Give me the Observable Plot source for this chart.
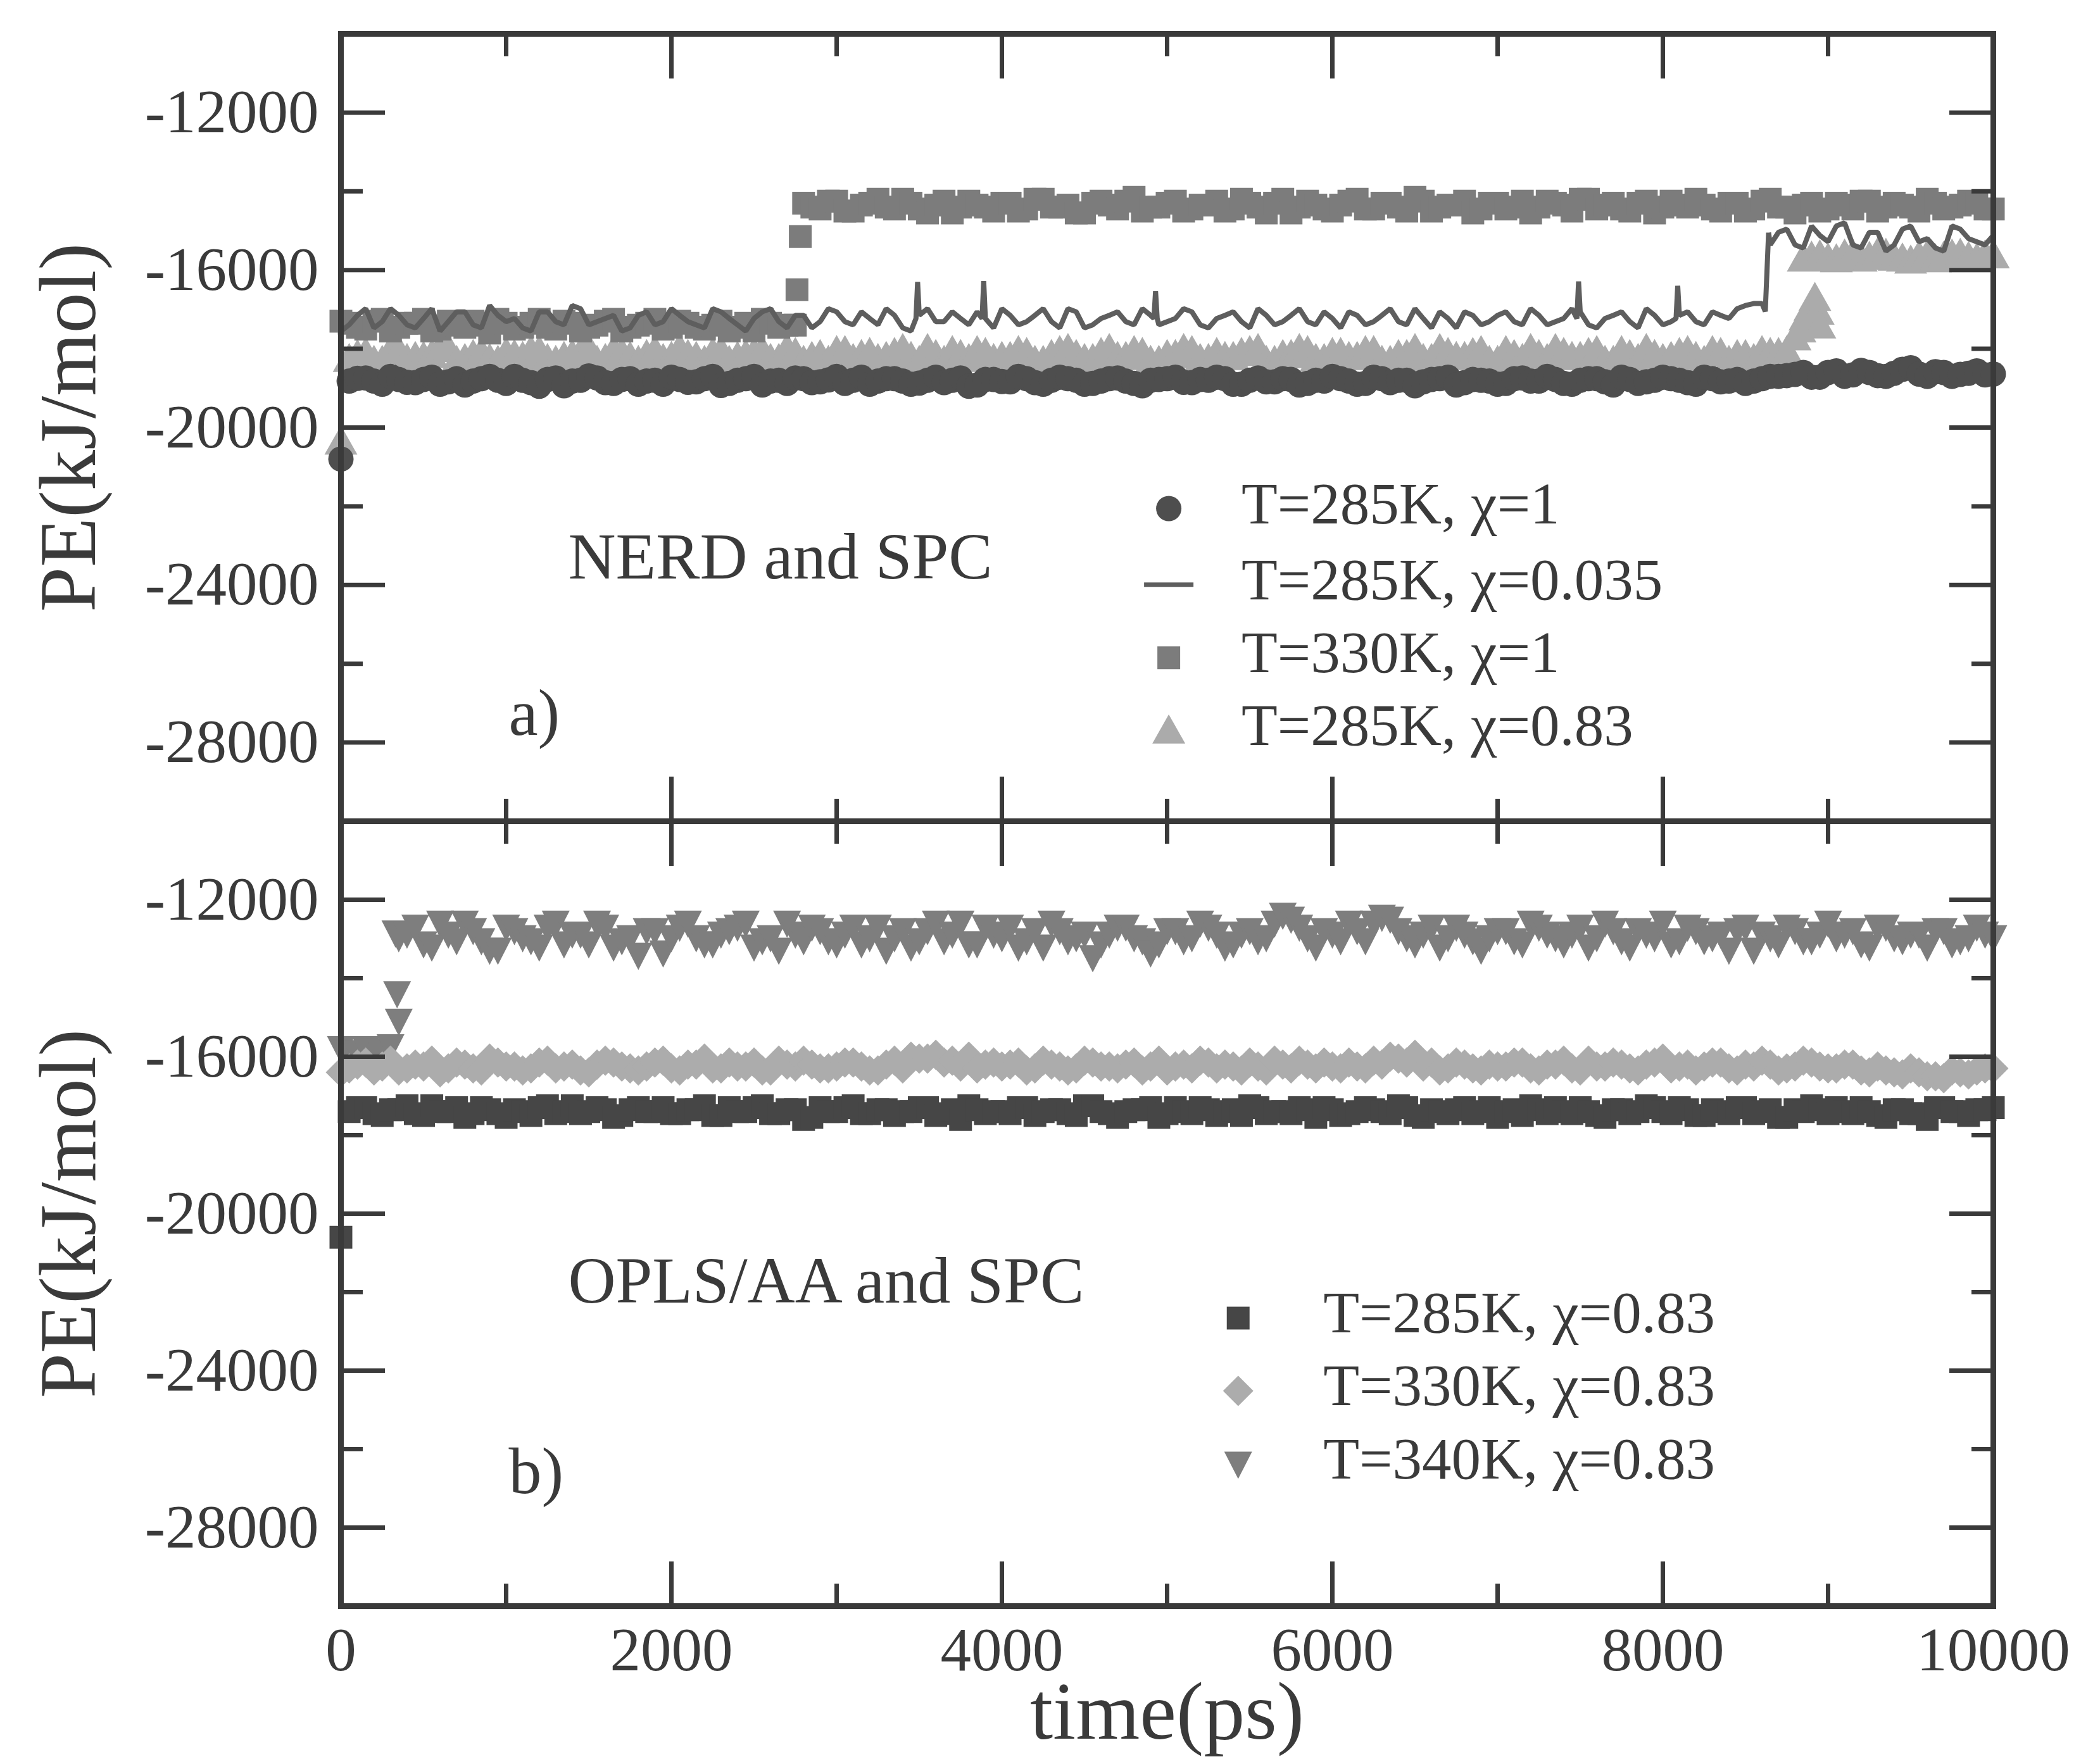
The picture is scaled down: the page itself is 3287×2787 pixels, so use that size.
<!DOCTYPE html>
<html><head><meta charset="utf-8">
<script src="https://cdn.jsdelivr.net/npm/d3@7"></script>
<script src="https://cdn.jsdelivr.net/npm/@observablehq/plot@0.6"></script>
<style>
html,body{margin:0;padding:0;background:#fff;}
#chart{position:relative;width:3287px;height:2787px;background:#fff;}
#chart svg{display:block;overflow:visible;}
</style></head><body><div id="chart"></div>
<script>
// ---------- data ----------
// main samples every 100 ps (t = 0..10000), "mid" samples half-way between (t = 50..9950)
const time = d3.range(0, 10001, 100);

// Panel a) NERD and SPC
const a_285K_chi1 = [-20800,
 -18750,-18820,-18700,-18850,-18780,-18900,-18760,-18820,-18700,-18880,
 -18800,-18950,-18740,-18820,-18690,-18860,-18780,-18900,-18800,-18720,
 -18850,-18760,-18930,-18800,-18700,-18820,-18880,-18760,-18840,-18700,
 -18800,-18900,-18760,-18820,-18870,-18720,-18800,-18950,-18780,-18830,
 -18700,-18860,-18800,-18760,-18900,-18820,-18740,-18880,-18800,-18760,
 -18850,-18780,-18720,-18900,-18800,-18840,-18760,-18920,-18800,-18700,
 -18820,-18880,-18760,-18800,-18940,-18780,-18720,-18860,-18800,-18900,
 -18760,-18820,-18700,-18880,-18800,-18760,-18920,-18780,-18840,-18720,
 -18800,-18900,-18760,-18820,-18880,-18760,-18700,
 -18650,-18720,-18600,-18700,-18550,-18680,-18620,-18480,-18700,-18600,-18650,-18560,-18640];
const a_285K_chi1_mid = [
 -18820,-18740,-18900,-18780,-18860,-18720,-18840,-18920,-18760,-18800,
 -18700,-18860,-18780,-18940,-18800,-18740,-18880,-18760,-18820,-18900,
 -18780,-18840,-18700,-18880,-18760,-18920,-18800,-18740,-18860,-18790,
 -18880,-18720,-18820,-18760,-18900,-18800,-18860,-18740,-18920,-18780,
 -18840,-18760,-18900,-18720,-18800,-18880,-18760,-18820,-18940,-18780,
 -18720,-18860,-18800,-18760,-18900,-18740,-18840,-18780,-18880,-18820,
 -18760,-18900,-18720,-18860,-18800,-18840,-18760,-18920,-18780,-18820,
 -18880,-18740,-18820,-18780,-18900,-18760,-18840,-18720,-18880,-18800,
 -18760,-18860,-18720,-18840,-18780,-18820,-18700,
 -18680,-18600,-18720,-18560,-18660,-18600,-18700,-18520,-18640,-18580,-18700,-18620,-18660];

const a_285K_chi0035 = [-17550,
 -17150,-17470,-16980,-17390,-17230,-17550,-17060,-17390,-16900,-17310,
 -17470,-17060,-17310,-16900,-17390,-17230,-17550,-17150,-17390,-16980,
 -17310,-17470,-17060,-17390,-17230,-16980,-17470,-17150,-17310,-17060,
 -17390,-17230,-16980,-17470,-17150,-17310,-17060,-17390,-17230,-16980,
 -17390,-17150,-17310,-16980,-17470,-17230,-17060,-17390,-17150,-17310,
 -16980,-17390,-17230,-17060,-17470,-17150,-17310,-16980,-17390,-17230,
 -17060,-17390,-17150,-17310,-16980,-17470,-17230,-17060,-17390,-17150,
 -17310,-16980,-17390,-17230,-17060,-17470,-17150,-17310,-16980,-17390,
 -17150,-17310,-17060,-17230,-16900,-16850,
 -15040,-15360,-14880,-15280,-14800,-15440,-15040,-15360,-14880,-15200,-15520,-14960,-15280,-15120];
const a_285K_chi0035_mid = [
 -17390,-16980,-17310,-17150,-17470,-16980,-17310,-17060,-17470,-17150,
 -17230,-17550,-17060,-17390,-16980,-17310,-17150,-17470,-17060,-17310,
 -17150,-17390,-16980,-17230,-17550,-17060,-17310,-17150,-17470,-16980,
 -17310,-17060,-17390,-17150,-17550,-16980,-17310,-17230,-17060,-17470,
 -17150,-17310,-16980,-17470,-17060,-17390,-17150,-17310,-16980,-17390,
 -17230,-17060,-17470,-17150,-17310,-16980,-17390,-17150,-17310,-17060,
 -17470,-17150,-17310,-16980,-17390,-17230,-17060,-17470,-17150,-17310,
 -17060,-17390,-17150,-17310,-16980,-17390,-17230,-17060,-17470,-17150,
 -17310,-17060,-17390,-17150,-16980,-16850,
 -15360,-14960,-15440,-15120,-14880,-15360,-15040,-15520,-14960,-15280,-15440,-14880,-15200,-15360];
// spikes and the jump near 8600 ps: [time, PE]
const a_285K_chi0035_extra = [[3480,-17230],[3490,-16300],[3880,-17230],[3890,-16280],
 [4920,-17230],[4930,-16540],[4940,-17230],[7480,-17230],[7490,-16290],[8080,-17230],[8090,-16400],
 [8620,-17050],[8640,-15050]];

const a_330K_chi1 = [-17300,
 -17450,-17300,-17550,-17350,-17250,-17500,-17400,-17300,-17600,-17350,
 -17450,-17250,-17500,-17350,-17450,-17300,-17550,-17400,-17250,-17450,
 -17350,-17500,-17300,-17450,-17550,-17350,-17400,
 -14300,
 -14450,-14250,-14500,-14300,-14400,-14200,-14450,-14350,-14550,-14250,-14400,-14300,
 -14500,-14200,-14400,-14350,-14550,-14250,-14450,-14150,-14400,-14300,
 -14500,-14350,-14250,-14450,-14300,-14550,-14200,-14400,-14350,-14500,
 -14250,-14450,-14300,-14400,-14150,-14500,-14350,-14250,-14450,-14300,
 -14400,-14550,-14250,-14350,-14200,-14450,-14300,-14500,-14250,-14400,
 -14350,-14200,-14450,-14300,-14500,-14250,-14400,-14550,-14300,-14450,
 -14350,-14250,-14500,-14300,-14400,-14200,-14450,-14350,-14300,-14450];
const a_330K_chi1_mid = [
 -17350,-17500,-17250,-17450,-17350,-17550,-17300,-17450,-17400,-17250,
 -17500,-17350,-17450,-17300,-17550,-17400,-17250,-17450,-17350,-17500,
 -17300,-17450,-17400,-17550,-17350,-17250,-17450,-17400,
 -14400,-14250,-14500,-14350,-14200,-14450,-14300,-14550,-14250,-14400,-14350,-14500,
 -14300,-14450,-14200,-14400,-14550,-14300,-14350,-14250,-14500,-14400,
 -14250,-14450,-14350,-14500,-14200,-14400,-14300,-14550,-14250,-14450,
 -14350,-14200,-14450,-14300,-14500,-14250,-14400,-14350,-14550,-14300,
 -14450,-14250,-14400,-14300,-14500,-14200,-14350,-14450,-14300,-14550,
 -14250,-14400,-14350,-14500,-14300,-14450,-14200,-14400,-14350,-14500,
 -14300,-14450,-14250,-14400,-14350,-14500,-14300,-14400,-14250,-14450];
const a_330K_chi1_extra = [[2760,-16500],[2780,-15150]];

const a_285K_chi083 = [-20350,
 -18150,-18300,-18050,-18250,-18200,-18000,-18300,-18150,-18250,-18100,
 -18200,-18050,-18300,-18150,-18000,-18250,-18100,-18300,-18050,-18200,
 -18150,-18300,-18050,-18200,-18100,-18250,-18000,-18300,-18150,-18050,
 -18250,-18100,-18200,-18000,-18300,-18150,-18050,-18250,-18100,-18200,
 -18050,-18300,-18150,-18000,-18250,-18100,-18200,-18050,-18300,-18150,
 -18000,-18250,-18100,-18200,-18050,-18300,-18150,-18000,-18250,-18100,
 -18200,-18050,-18300,-18150,-18000,-18250,-18100,-18200,-18050,-18300,
 -18150,-18000,-18250,-18100,-18200,-18050,-18300,-18150,-18000,-18250,
 -18100,-18200,-18050,-18300,-18150,-18050,-18100,
 -17700,-15650,-15700,
 -15600,-15700,-15560,-15680,-15750,-15620,-15650,-15580,-15700,-15620];
const a_285K_chi083_mid = [
 -18250,-18100,-18300,-18050,-18200,-18150,-18000,-18250,-18100,-18300,
 -18150,-18050,-18250,-18200,-18100,-18300,-18050,-18200,-18150,-18250,
 -18000,-18200,-18100,-18300,-18150,-18050,-18250,-18100,-18200,-18300,
 -18050,-18150,-18250,-18100,-18200,-18000,-18300,-18150,-18050,-18250,
 -18200,-18100,-18300,-18050,-18150,-18250,-18000,-18200,-18100,-18300,
 -18150,-18050,-18250,-18200,-18100,-18000,-18300,-18150,-18050,-18250,
 -18100,-18200,-18050,-18300,-18150,-18250,-18000,-18200,-18100,-18300,
 -18050,-18250,-18150,-18000,-18200,-18100,-18300,-18050,-18250,-18150,
 -18200,-18050,-18300,-18100,-18150,-18250,-18100,-18050,
 -15700,
 -15620,-15720,-15600,-15660,-15580,-15700,-15640,-15720,-15600,-15660,-15620];
const a_285K_chi083_extra = [[8830,-17500],[8860,-17200],[8890,-16950],[8920,-16700],[8940,-17050],[8950,-17400]];

// Panel b) OPLS/AA and SPC
const b_285K = [-20600,
 -17300,-17450,-17350,-17250,-17500,-17400,-17300,-17450,-17350,-17550,
 -17400,-17300,-17450,-17250,-17400,-17350,-17500,-17300,-17400,-17450,
 -17350,-17250,-17500,-17400,-17300,-17450,-17350,-17600,-17300,-17400,
 -17250,-17450,-17350,-17400,-17300,-17500,-17350,-17250,-17450,-17400,
 -17300,-17500,-17350,-17450,-17250,-17400,-17550,-17350,-17300,-17450,
 -17400,-17300,-17500,-17350,-17250,-17450,-17400,-17300,-17550,-17350,
 -17450,-17300,-17400,-17250,-17500,-17350,-17450,-17300,-17400,-17550,
 -17350,-17250,-17450,-17400,-17300,-17500,-17350,-17450,-17250,-17400,
 -17300,-17500,-17350,-17450,-17300,-17400,-17550,-17350,-17250,-17450,
 -17400,-17300,-17500,-17350,-17450,-17600,-17300,-17400,-17350,-17300];
const b_285K_mid = [
 -17400,-17300,-17500,-17350,-17450,-17250,-17400,-17550,-17300,-17450,
 -17350,-17500,-17250,-17400,-17450,-17300,-17550,-17350,-17400,-17300,
 -17450,-17350,-17500,-17300,-17400,-17250,-17450,-17350,-17550,-17400,
 -17300,-17450,-17350,-17500,-17400,-17300,-17450,-17600,-17350,-17400,
 -17450,-17300,-17400,-17350,-17500,-17250,-17450,-17400,-17350,-17550,
 -17300,-17450,-17350,-17400,-17500,-17300,-17400,-17450,-17350,-17300,
 -17500,-17400,-17350,-17450,-17300,-17550,-17400,-17350,-17450,-17300,
 -17400,-17500,-17350,-17300,-17450,-17400,-17550,-17350,-17400,-17300,
 -17450,-17350,-17500,-17400,-17300,-17450,-17350,-17550,-17400,-17350,
 -17300,-17450,-17400,-17550,-17350,-17450,-17300,-17400,-17500,-17350];
const b_330K = [-16400,
 -16200,-16350,-16100,-16300,-16250,-16400,-16150,-16300,-16050,-16250,
 -16350,-16150,-16300,-16200,-16400,-16100,-16250,-16350,-16150,-16300,
 -16200,-16050,-16300,-16250,-16150,-16350,-16200,-16100,-16300,-16250,
 -16150,-16350,-16200,-16300,-16050,-15950,-16100,-16000,-16200,-16250,
 -16150,-16300,-16200,-16350,-16100,-16250,-16300,-16150,-16250,-16350,
 -16200,-16100,-16300,-16250,-16150,-16350,-16200,-16100,-16300,-16250,
 -16150,-16300,-16200,-16050,-15950,-16150,-16300,-16200,-16350,-16250,
 -16150,-16300,-16200,-16100,-16350,-16250,-16150,-16300,-16200,-16050,
 -16250,-16350,-16150,-16300,-16200,-16100,-16350,-16250,-16150,-16300,
 -16200,-16350,-16250,-16400,-16300,-16500,-16550,-16400,-16350,-16300];
const b_330K_mid = [
 -16300,-16150,-16250,-16350,-16200,-16100,-16300,-16200,-16350,-16150,
 -16250,-16300,-16100,-16250,-16350,-16200,-16150,-16300,-16250,-16100,
 -16350,-16200,-16300,-16150,-16250,-16350,-16100,-16250,-16200,-16300,
 -16150,-16250,-16350,-16100,-16000,-16050,-16150,-16250,-16300,-16150,
 -16200,-16350,-16100,-16250,-16300,-16150,-16250,-16200,-16350,-16100,
 -16250,-16300,-16150,-16200,-16350,-16250,-16100,-16300,-16200,-16150,
 -16300,-16250,-16100,-16000,-16150,-16250,-16350,-16150,-16300,-16200,
 -16250,-16150,-16350,-16200,-16300,-16100,-16250,-16200,-16350,-16150,
 -16300,-16200,-16250,-16150,-16350,-16250,-16200,-16300,-16100,-16250,
 -16300,-16200,-16400,-16350,-16450,-16400,-16500,-16350,-16450,-16300];
const b_340K = [-15800,-15950,-15850,-15750,
 -12880,-13130,-12600,-13050,-12790,-13290,-12700,
 -12970,-13210,-12600,-12880,-13130,-12700,-13050,-13420,-12790,-12970,
 -12600,-13130,-12880,-12700,-13210,-12970,-12600,-13050,-12790,-13130,
 -12700,-12970,-13290,-12790,-13050,-12600,-12880,-13130,-12700,-12970,
 -13210,-12790,-12600,-13050,-12880,-13130,-12700,-12970,-13360,-12790,
 -13050,-12600,-12880,-13130,-12790,-12970,-12400,-12700,-13210,-12880,
 -12600,-13050,-12450,-12790,-13130,-12700,-12970,-12880,-13290,-12790,
 -13050,-12600,-12880,-13130,-12700,-12970,-12790,-13210,-12880,-12600,
 -13050,-12790,-12970,-13290,-12700,-12880,-13130,-12790,-13050,-12600,
 -12880,-13130,-12700,-12970,-12880,-13210,-12790,-13050,-12700,-12970];
const b_340K_mid = [-15900,-15800,-15950,
 -12970,-12700,-13210,-12880,-12600,-13050,-13290,
 -12790,-13050,-12700,-13130,-12880,-12600,-13210,-12970,-12790,-13360,
 -12700,-12970,-13130,-12790,-12600,-13050,-13290,-12880,-12700,-13050,
 -12880,-13130,-12700,-12970,-13210,-12790,-13050,-12600,-13130,-12880,
 -12700,-13050,-13210,-12790,-12970,-13480,-12880,-12700,-13050,-13130,
 -12790,-12970,-12700,-13210,-12880,-13050,-12600,-12500,-12970,-12790,
 -13050,-12790,-12600,-12500,-12970,-12880,-13210,-12700,-13050,-12970,
 -12790,-13130,-12700,-12970,-12880,-13210,-12600,-13050,-12790,-12970,
 -13130,-12700,-13050,-12880,-12790,-13290,-12970,-12700,-13050,-12880,
 -12970,-12790,-13210,-12700,-13050,-12880,-12790,-13130,-12970,-12880];
const b_340K_extra = [[330,-12850],[340,-14400],[350,-15100]];

// axis ticks
const yMajor = [-12000,-16000,-20000,-24000,-28000];
const yMinor = [-14000,-18000,-22000,-26000];
const xMajor = [2000,4000,6000,8000];
const xMinor = [1000,3000,5000,7000,9000];
const xLabelTicks = [0,2000,4000,6000,8000,10000];

// legends / annotations text
const legendA = ["T=285K, \u03c7=1","T=285K, \u03c7=0.035","T=330K, \u03c7=1","T=285K, \u03c7=0.83"];
const legendB = ["T=285K, \u03c7=0.83","T=330K, \u03c7=0.83","T=340K, \u03c7=0.83"];

// ---------- styling / layout ----------
const W = 3287, FONT = "Liberation Serif", INK = "#3a3a3a", R = 20;
const C = {a1:"#4e4e4e", a2:"#5e5e5e", a3:"#7c7c7c", a4:"#ababab", b1:"#464646", b2:"#acacac", b3:"#7e7e7e"};

// marker shapes in pixels (independent of the size argument)
function sym(f){ return {draw(ctx){ f(ctx); }}; }
const SQUARE = sym(c => { c.moveTo(-18,-18); c.lineTo(18,-18); c.lineTo(18,18); c.lineTo(-18,18); c.closePath(); });
const TRI_UP = sym(c => { c.moveTo(0,-25); c.lineTo(26,21); c.lineTo(-26,21); c.closePath(); });
const TRI_DOWN = sym(c => { c.moveTo(-22,-20); c.lineTo(22,-20); c.lineTo(0,23); c.closePath(); });
const DIAMOND = sym(c => { c.moveTo(0,-24); c.lineTo(24,0); c.lineTo(0,24); c.lineTo(-24,0); c.closePath(); });
const DASH = sym(c => { c.moveTo(-39,0); c.lineTo(39,0); });

function rows(values, mid = [], extra = []) {
  const out = values.map((v, i) => ({t: time[i], pe: v}));
  mid.forEach((v, i) => out.push({t: time[i] + 50, pe: v}));
  for (const [t, v] of extra) out.push({t, pe: v});
  return out.sort((p, q) => p.t - q.t);
}
function dots(data, symbol, fill) {
  return Plot.dot(data, {x: "t", y: "pe", r: R, symbol, fill, stroke: "none"});
}

function frameAndAxes(withXLabels) {
  const tk = {stroke: INK, strokeWidth: 7, fill: "none", label: null};
  return [
    Plot.frame({stroke: INK, strokeWidth: 9}),
    ...["left","right"].flatMap(a => [
      Plot.axisY(yMajor, {...tk, anchor: a, tickSize: -70}),
      Plot.axisY(yMinor, {...tk, anchor: a, tickSize: -35})
    ]),
    ...["top","bottom"].flatMap(a => [
      Plot.axisX(xMajor, {...tk, anchor: a, tickSize: -70}),
      Plot.axisX(xMinor, {...tk, anchor: a, tickSize: -35})
    ]),
    Plot.axisY(yMajor, {anchor: "left", tickSize: 0, tickPadding: 35, tickFormat: d => String(d),
      fontSize: 97, fill: INK, label: null}),
    withXLabels ? Plot.axisX(xLabelTicks, {anchor: "bottom", tickSize: 0, tickPadding: 33,
      tickFormat: d => String(d), fontSize: 97, fill: INK, label: null}) : null,
    Plot.text(["PE(kJ/mol)"], {frameAnchor: "left", textAnchor: "middle", rotate: -90, dx: -429,
      fontSize: 128, fill: INK})
  ];
}

function legend(labels, symbols, colors, xSym, xText, ys) {
  return labels.flatMap((label, i) => {
    const isDash = symbols[i] === DASH;
    return [
      Plot.dot([{t: xSym, pe: ys[i]}], {x: "t", y: "pe", r: R, symbol: symbols[i],
        fill: isDash ? "none" : colors[i], stroke: isDash ? colors[i] : "none", strokeWidth: 7}),
      Plot.text([{t: xText, pe: ys[i]}], {x: "t", y: "pe", text: () => label, textAnchor: "start",
        lineAnchor: "bottom", dy: 23, fontSize: 93, fill: INK})
    ];
  });
}

function note(items) {
  return Plot.text(items, {x: "t", y: "pe", text: "s", textAnchor: "start", lineAnchor: "bottom",
    fontSize: 104, fill: INK});
}

function panel(height, marginTop, marginBottom, marks) {
  return Plot.plot({
    width: W, height, marginLeft: 538, marginRight: 139, marginTop, marginBottom,
    x: {domain: [0, 10000]}, y: {domain: [-30000, -10000]},
    style: {fontFamily: FONT, color: INK, background: "white", overflow: "visible"},
    marks
  });
}

const panelA = panel(1297, 53, 0, [
  dots(rows(a_285K_chi083, a_285K_chi083_mid, a_285K_chi083_extra), TRI_UP, C.a4),
  dots(rows(a_330K_chi1, a_330K_chi1_mid, a_330K_chi1_extra), SQUARE, C.a3),
  Plot.line(rows(a_285K_chi0035, a_285K_chi0035_mid, a_285K_chi0035_extra),
    {x: "t", y: "pe", stroke: C.a2, strokeWidth: 8, strokeLinejoin: "miter"}),
  dots(rows(a_285K_chi1, a_285K_chi1_mid), "circle", C.a1),
  ...frameAndAxes(false),
  note([{t: 1375, pe: -23842, s: "NERD and SPC"}, {t: 1015, pe: -27800, s: "a)"}]),
  ...legend(legendA, ["circle", DASH, SQUARE, TRI_UP], [C.a1, C.a2, C.a3, C.a4],
    5010, 5450, [-22058, -23990, -25850, -27690])
]);

const panelB = panel(1490, 0, 250, [
  dots(rows(b_340K, b_340K_mid, b_340K_extra), TRI_DOWN, C.b3),
  dots(rows(b_330K, b_330K_mid), DIAMOND, C.b2),
  dots(rows(b_285K, b_285K_mid), SQUARE, C.b1),
  ...frameAndAxes(true),
  Plot.text(["time(ps)"], {frameAnchor: "bottom", lineAnchor: "bottom", dy: 209, fontSize: 130, fill: INK}),
  note([{t: 1375, pe: -22274, s: "OPLS/AA and SPC"}, {t: 1015, pe: -27113, s: "b)"}]),
  ...legend(legendB, [SQUARE, DIAMOND, TRI_DOWN], [C.b1, C.b2, C.b3],
    5430, 5945, [-22661, -24516, -26387])
]);

const root = document.getElementById("chart");
root.appendChild(panelA);
root.appendChild(panelB);
</script></body></html>
